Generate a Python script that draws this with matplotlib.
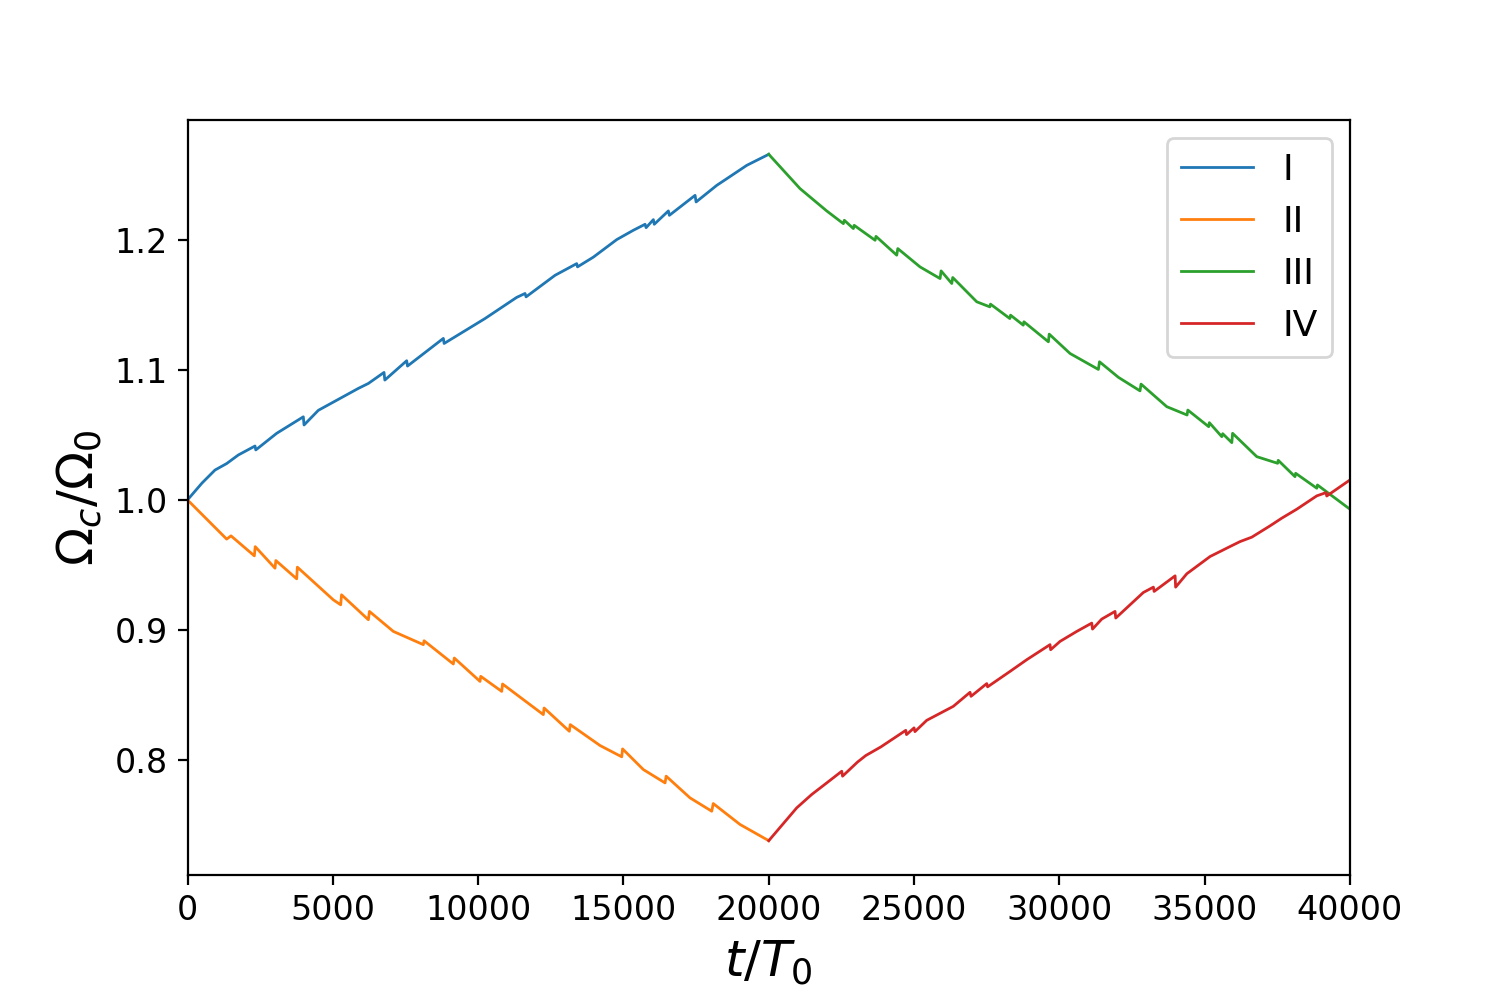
import matplotlib
matplotlib.use('Agg')
import matplotlib.pyplot as plt

# Omega_c / Omega_0 vs t/T0, four stages
I_t = [0, 500, 946, 1348, 1749, 2323, 2350, 3069, 3985, 4010, 4502, 5879, 6223,
       6762, 6790, 7542, 7570, 8803, 8830, 10237, 11327, 11614, 11650, 12646,
       13392, 13420, 13965, 14769, 15341, 15744, 15780, 16030, 16060, 16546,
       16580, 17465, 17500, 18211, 18555, 19243, 20000]
I_y = [1.0, 1.013, 1.023, 1.028, 1.0346, 1.0415, 1.0385, 1.0513, 1.064, 1.0577,
       1.069, 1.0859, 1.0897, 1.0982, 1.0923, 1.1072, 1.1031, 1.1244, 1.1205,
       1.1397, 1.156, 1.159, 1.1564, 1.173, 1.182, 1.1795, 1.187, 1.2005, 1.2077,
       1.2123, 1.2097, 1.2159, 1.2123, 1.2226, 1.2192, 1.2346, 1.2295, 1.2423,
       1.2474, 1.2577, 1.2662]

II_t = [0, 1348, 1497, 2300, 2330, 3011, 3040, 3757, 3780, 5018, 5271, 5300,
        6223, 6260, 7083, 8115, 8140, 9147, 9180, 10065, 10090, 10812, 10840,
        12244, 12270, 13138, 13170, 14195, 14941, 14970, 15684, 16432, 16470,
        17290, 18038, 18090, 19011, 20000]
II_y = [1.0, 0.9698, 0.9723, 0.9569, 0.964, 0.9474, 0.9533, 0.9392, 0.9482,
        0.923, 0.9192, 0.9269, 0.9077, 0.9141, 0.8987, 0.8885, 0.8915, 0.8736,
        0.8782, 0.8602, 0.8641, 0.8525, 0.8582, 0.8346, 0.8397, 0.8218, 0.8269,
        0.8108, 0.8021, 0.8082, 0.7923, 0.782, 0.7872, 0.7705, 0.7602, 0.7661,
        0.75, 0.7375]

III_t = [20000, 21076, 21994, 22568, 22600, 22911, 22940, 23659, 23690, 24404,
         24440, 25204, 25895, 25930, 26297, 26330, 27157, 27607, 27630, 28295,
         28320, 28757, 28780, 29622, 29650, 30366, 31342, 31380, 32032, 32775,
         32810, 33696, 34394, 34420, 35138, 35160, 35589, 35620, 35933, 35960,
         36793, 37510, 37530, 38107, 38130, 38857, 38880, 40000]
III_y = [1.2662, 1.2398, 1.2226, 1.2128, 1.2154, 1.209, 1.2115, 1.2, 1.203,
         1.1885, 1.1936, 1.1795, 1.1705, 1.1764, 1.1667, 1.1713, 1.1526, 1.1487,
         1.1508, 1.1397, 1.1423, 1.1346, 1.1372, 1.1218, 1.1277, 1.1128, 1.1005,
         1.1064, 1.0944, 1.084, 1.0892, 1.0718, 1.0654, 1.0692, 1.0564, 1.0595,
         1.0487, 1.051, 1.0441, 1.0513, 1.0333, 1.0282, 1.0305, 1.0179, 1.0205,
         1.009, 1.0115, 0.9928]

IV_t = [20000, 20963, 21479, 21995, 22512, 22540, 23051, 23339, 23855, 24715,
        24740, 25000, 25030, 25435, 26352, 26926, 26960, 27501, 27530, 28303,
        28877, 29678, 29700, 30022, 30598, 31114, 31140, 31458, 31915, 31940,
        32890, 33235, 33260, 33982, 34000, 34384, 35186, 35874, 36218, 36621,
        37248, 37650, 38166, 38856, 39175, 39200, 40000]
IV_y = [0.7375, 0.7628, 0.7731, 0.782, 0.791, 0.7872, 0.798, 0.8031, 0.8097,
        0.8225, 0.8192, 0.8244, 0.8215, 0.8302, 0.841, 0.8518, 0.8487, 0.8585,
        0.856, 0.8679, 0.8769, 0.8885, 0.8846, 0.891, 0.8987, 0.9051, 0.9005,
        0.9082, 0.9141, 0.909, 0.9287, 0.9328, 0.9295, 0.9415, 0.9328, 0.9431,
        0.9564, 0.9641, 0.9679, 0.9713, 0.98, 0.9859, 0.9928, 1.0031, 1.0056,
        1.003, 1.0154]

LABELS = ['I', 'II', 'III', 'IV']

fig, ax = plt.subplots(figsize=(7.5, 5), dpi=200)
fig.subplots_adjust(bottom=0.125)

for (t, y), lab in zip([(I_t, I_y), (II_t, II_y), (III_t, III_y), (IV_t, IV_y)], LABELS):
    ax.plot(t, y, lw=1, label=lab)

ax.set_xlim(0, 40000)
ax.set_xlabel(r'$t/T_0$', fontsize=18)
ax.set_ylabel(r'$\Omega_c/\Omega_0$', fontsize=18)
ax.tick_params(labelsize=12)
ax.legend(fontsize=13)

fig.savefig('out.png', dpi=200)
